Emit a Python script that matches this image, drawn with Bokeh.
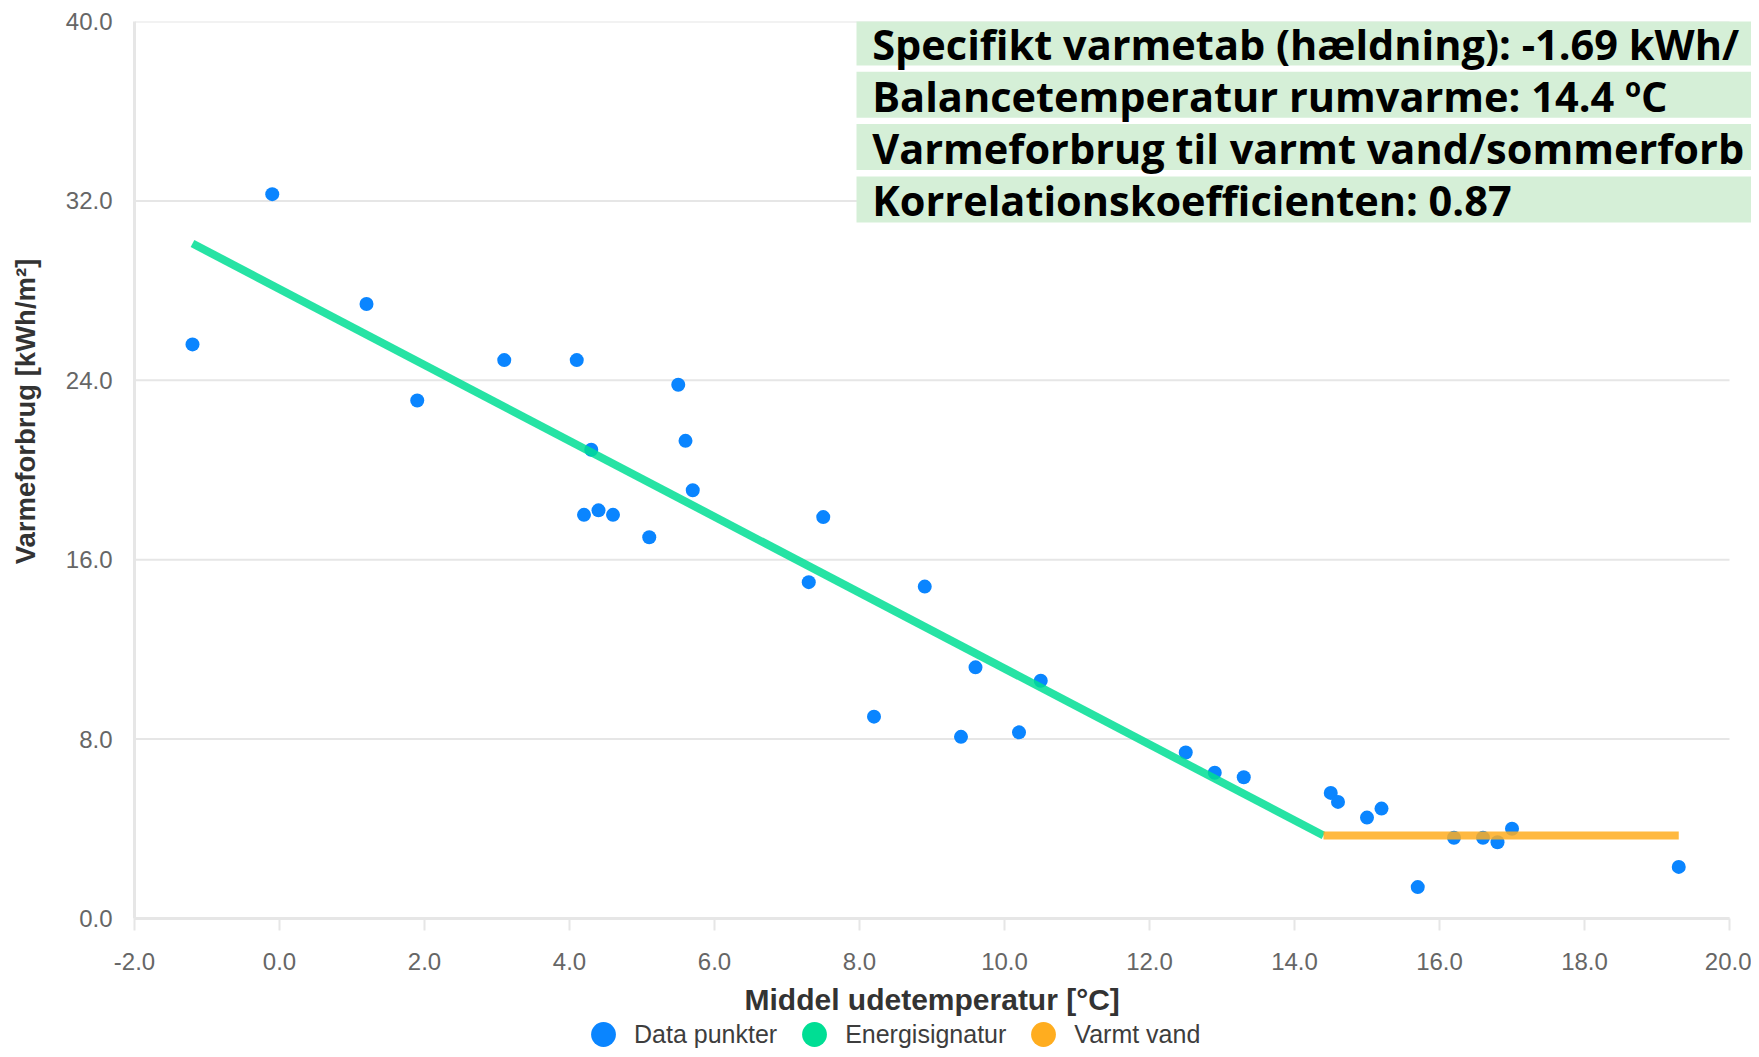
import math
import numpy as np
from bokeh.plotting import figure
from bokeh.layouts import column, row
from bokeh.models import (Label, Legend, LegendItem, Range1d, FixedTicker,
                          NumeralTickFormatter, BoxAnnotation)
from bokeh.embed import file_html
from bokeh.resources import INLINE

# ---------------- data ----------------
temp = [-1.2, -0.1, 1.2, 1.9, 3.1, 4.1, 5.5, 4.3, 5.6, 5.7, 4.2, 4.4, 4.6, 5.1,
        7.5, 7.3, 8.9, 9.6, 10.5, 8.2, 9.4, 10.2, 12.5, 12.9, 13.3, 14.5, 14.6,
        15.0, 15.2, 16.2, 16.6, 16.8, 17.0, 15.7, 19.3]
forbrug = [25.6, 32.3, 27.4, 23.1, 24.9, 24.9, 23.8, 20.9, 21.3, 19.1, 18.0, 18.2,
           18.0, 17.0, 17.9, 15.0, 14.8, 11.2, 10.6, 9.0, 8.1, 8.3, 7.4, 6.5, 6.3,
           5.6, 5.2, 4.5, 4.9, 3.6, 3.6, 3.4, 4.0, 1.4, 2.3]

signatur_x = [-1.2, 14.4]
signatur_y = [30.1, 3.7]
varmt_vand_x = [14.4, 19.3]
varmt_vand_y = [3.7, 3.7]

x_ticks = [-2, 0, 2, 4, 6, 8, 10, 12, 14, 16, 18, 20]
y_ticks = [0, 8, 16, 24, 32, 40]

slope = -1.69
balance_temp = 14.4
correlation = 0.87
info_lines = [
    f"Specifikt varmetab (hældning): {slope:.2f} kWh/",
    f"Balancetemperatur rumvarme: {balance_temp:.1f} ºC",
    "Varmeforbrug til varmt vand/sommerforb",
    f"Korrelationskoefficienten: {correlation:.2f}",
]
x_title = "Middel udetemperatur [°C]"
y_title = "Varmeforbrug [kWh/m²]"
legend_labels = ["Data punkter", "Energisignatur", "Varmt vand"]

# ---------------- layout / style ----------------
BLUE = "#0a85ff"
GREEN = "#00de94"
ORANGE = "#ffad1f"
GRID = "#e6e6e6"
BOX = "#d5efd7"
TICK_FONT = "Liberation Sans"

TOTAL_W = 1751
TOTAL_H = 1049
TITLE_W = 50
FRAME_LEFT = 134          # page px of x = -2
FRAME_TOP = 21
FRAME_H = 897
AXIS_H = 62
MAIN_H = FRAME_TOP + FRAME_H + AXIS_H
BOTTOM_H = TOTAL_H - MAIN_H
PX_X = (1729 - FRAME_LEFT) / (x_ticks[-1] - x_ticks[0])
PX_Y = FRAME_H / (y_ticks[-1] - y_ticks[0])
x_end = x_ticks[0] + (TOTAL_W - FRAME_LEFT) / PX_X


def dx(px):
    return x_ticks[0] + (px - FRAME_LEFT) / PX_X


def dy(py):
    return y_ticks[-1] - (py - FRAME_TOP) / PX_Y


p = figure(width=TOTAL_W - TITLE_W, height=MAIN_H, output_backend="svg",
           toolbar_location=None,
           x_range=Range1d(x_ticks[0], x_end), y_range=Range1d(y_ticks[0], y_ticks[-1]),
           min_border_left=FRAME_LEFT - TITLE_W, min_border_right=0,
           min_border_top=FRAME_TOP, min_border_bottom=AXIS_H)
p.outline_line_color = None
p.background_fill_color = "white"
p.border_fill_color = "white"
p.grid.visible = False

p.xaxis.ticker = FixedTicker(ticks=x_ticks)
p.yaxis.ticker = FixedTicker(ticks=y_ticks)
p.xaxis.bounds = (x_ticks[0], x_ticks[-1])
p.xaxis.formatter = NumeralTickFormatter(format="0.0")
p.yaxis.formatter = NumeralTickFormatter(format="0.0")

for ax in (p.xaxis, p.yaxis):
    ax.axis_line_color = GRID
    ax.axis_line_width = 3
    ax.minor_tick_line_color = None
    ax.major_label_text_font = TICK_FONT
    ax.major_label_text_font_size = "24px"
    ax.major_label_text_color = "#666666"

p.xaxis.major_tick_line_color = GRID
p.xaxis.major_tick_line_width = 2
p.xaxis.major_tick_out = 12
p.xaxis.major_tick_in = 0
p.xaxis.major_label_standoff = 22

p.yaxis.major_tick_line_color = None
p.yaxis.major_tick_out = 0
p.yaxis.major_tick_in = 0
p.yaxis.major_label_standoff = 22

# horizontal grid lines, from the first to the last x tick
p.segment(x0=[x_ticks[0]] * len(y_ticks), x1=[x_ticks[-1]] * len(y_ticks),
          y0=y_ticks, y1=y_ticks, line_color=GRID, line_width=2)

# ---------------- marks ----------------
pts = p.scatter(temp, forbrug, size=14, fill_color=BLUE, line_color=None)
p.line(signatur_x, signatur_y, line_color=GREEN, line_alpha=0.85, line_width=8)
p.line(varmt_vand_x, varmt_vand_y, line_color=ORANGE, line_alpha=0.85, line_width=8)

# ---------------- info boxes ----------------
for i, line in enumerate(info_lines):
    top_px = 19 + 52.3 * i
    p.add_layout(BoxAnnotation(left=dx(856), right=x_end,
                               top=dy(top_px), bottom=dy(top_px + 46),
                               fill_color=BOX, fill_alpha=1.0,
                               line_color=None, line_alpha=0))
for i, line in enumerate(info_lines):
    base_px = 43 + 52 * i
    p.add_layout(Label(x=dx(871.7), y=dy(base_px), text=line,
                       text_align="left", text_baseline="alphabetic",
                       text_font="Open Sans", text_font_style="bold",
                       text_font_size="41.5px", text_color="#000000"))

# ---------------- y-axis title (own strip) ----------------
tf = figure(width=TITLE_W, height=MAIN_H, output_backend="svg", toolbar_location=None,
            x_range=Range1d(0, TITLE_W), y_range=Range1d(0, MAIN_H), min_border=0,
            x_axis_location=None, y_axis_location=None)
tf.outline_line_color = None
tf.grid.visible = False
tf.add_layout(Label(x=25, y=MAIN_H - 593, text=y_title,
                    angle=math.pi / 2, text_align="left", text_baseline="middle",
                    text_font=TICK_FONT, text_font_style="bold",
                    text_font_size="27.5px", text_color="#333333"))

# ---------------- x-axis title + legend (own strip) ----------------
lf = figure(width=TOTAL_W, height=BOTTOM_H, output_backend="svg", toolbar_location=None,
            x_range=Range1d(0, TOTAL_W), y_range=Range1d(0, BOTTOM_H), min_border=0,
            x_axis_location=None, y_axis_location=None)
lf.outline_line_color = None
lf.grid.visible = False
lf.add_layout(Label(x=744, y=TOTAL_H - 998.5, text=x_title,
                    text_align="left", text_baseline="middle",
                    text_font=TICK_FONT, text_font_style="bold",
                    text_font_size="30px", text_color="#333333"))
# legend proxies: a single NaN point each, so nothing is drawn in the strip itself
leg_r = [lf.scatter(np.array([np.nan]), np.array([np.nan]), fill_color=c, line_color=None)
         for c in (BLUE, GREEN, ORANGE)]
legend = Legend(items=[LegendItem(label=lab, renderers=[r])
                       for lab, r in zip(legend_labels, leg_r)],
                orientation="horizontal", location=(572, (TOTAL_H - 1034) - 31),
                glyph_width=62, glyph_height=62, label_standoff=0, spacing=6,
                padding=0, margin=0, border_line_color=None,
                background_fill_alpha=0,
                label_text_font=TICK_FONT, label_text_font_size="25px",
                label_text_color="#3d3d3d")
lf.add_layout(legend)

layout = column(row(tf, p), lf)
open("out.html", "w").write(file_html(layout, INLINE))
